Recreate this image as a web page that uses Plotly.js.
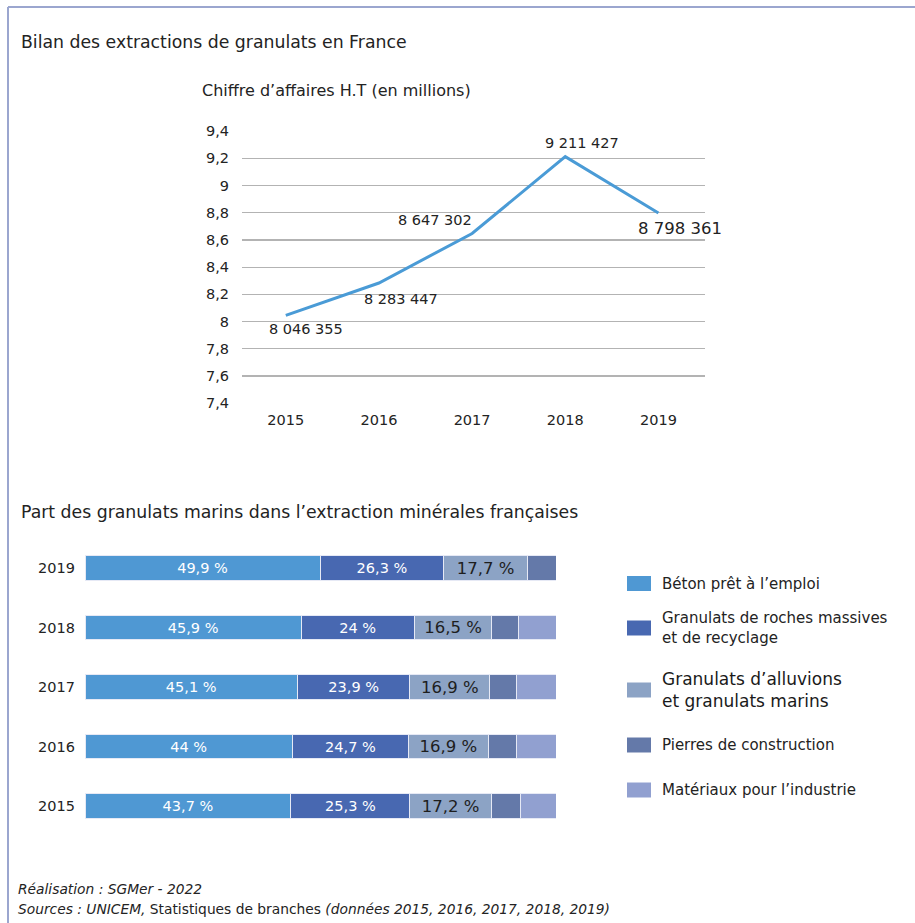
<!DOCTYPE html>
<html>
<head>
<meta charset="utf-8">
<script src="https://cdn.plot.ly/plotly-3.0.1.min.js"></script>
<style>
  html, body { margin: 0; padding: 0; background: #fff; }
  #chart { width: 915px; height: 923px; }
</style>
</head>
<body>
<div id="chart"></div>
<script>
// ---- Data ----
const years = ['2015', '2016', '2017', '2018', '2019'];
const chiffreAffaires = [8046355, 8283447, 8647302, 9211427, 8798361];

const barYears = ['2015', '2016', '2017', '2018', '2019'];
const seriesNames = [
  'Béton prêt à l\u2019emploi',
  'Granulats de roches massives<br>et de recyclage',
  'Granulats d\u2019alluvions<br>et granulats marins',
  'Pierres de construction',
  'Matériaux pour l\u2019industrie'
];
const beton     = [43.7, 44.0, 45.1, 45.9, 49.9];
const roches    = [25.3, 24.7, 23.9, 24.0, 26.3];
const alluvions = [17.2, 16.9, 16.9, 16.5, 17.7];
const pierres   = [6.3, 6.1, 5.8, 5.6, 6.1];
const materiaux = [7.5, 8.3, 8.3, 8.0, 0];

// ---- Styles ----
const FONT = '"DejaVu Sans", "Open Sans", sans-serif';
const TXT = '#232323';
const colors = ['#4f98d3', '#4868b1', '#8ca3c5', '#6479a9', '#91a0d0'];
const W = 915, H = 923;
const px = x => x / W;
const py = y => 1 - y / H;

function fmtThousands(v) {
  return String(v).replace(/\B(?=(\d{3})+(?!\d))/g, ' ');
}
function fmtPct(v) {
  return String(v).replace('.', ',') + ' %';
}

const yM = chiffreAffaires.map(v => v / 1e6);
const xIdx = years.map((_, i) => i);

const traces = [];
traces.push({
  type: 'scatter', mode: 'lines',
  x: xIdx, y: yM, xaxis: 'x', yaxis: 'y',
  line: { color: '#4a9bd6', width: 3 },
  hoverinfo: 'skip', showlegend: false
});

const barSeries = [beton, roches, alluvions, pierres, materiaux];
barSeries.forEach((vals, i) => {
  const showText = i < 3;
  traces.push({
    type: 'bar', orientation: 'h',
    x: vals, y: barYears, xaxis: 'x2', yaxis: 'y2',
    name: seriesNames[i],
    marker: { color: colors[i], line: { color: '#e6e9f5', width: 1 } },
    text: showText ? vals.map(fmtPct) : vals.map(() => ''),
    textposition: 'inside', insidetextanchor: 'middle',
    constraintext: 'none',
    textfont: i < 2 ? { family: FONT, size: 14.5, color: '#ffffff' }
                    : { family: FONT, size: 16.5, color: '#1e1e1e' },
    hoverinfo: 'skip', showlegend: false,
    width: 0.41
  });
});

// ---- Annotations ----
const ann = [];
function textAnn(x, y, text, size, opts) {
  ann.push(Object.assign({
    xref: 'paper', yref: 'paper', x: px(x), y: py(y), text: text,
    showarrow: false, xanchor: 'left', yanchor: 'middle',
    font: { family: FONT, size: size, color: TXT }
  }, opts || {}));
}
textAnn(19, 42, 'Bilan des extractions de granulats en France', 17.3);
textAnn(200, 91, 'Chiffre d\u2019affaires H.T (en millions)', 16);
textAnn(19, 512, 'Part des granulats marins dans l\u2019extraction minérales françaises', 17.3);
textAnn(16, 889, '<i>Réalisation : SGMer - 2022</i>', 13.8);
textAnn(16, 909, '<i>Sources : UNICEM,</i> Statistiques de branches <i>(données 2015, 2016, 2017, 2018, 2019)</i>', 13.8);

// Line data labels (offsets from the points)
const lblShift = [[20, -14], [22, -16], [-37, 13], [17, 14], [22, -16]];
chiffreAffaires.forEach((v, i) => {
  ann.push({
    xref: 'x', yref: 'y', x: xIdx[i], y: yM[i],
    text: fmtThousands(v), showarrow: false,
    xanchor: 'center', yanchor: 'middle',
    xshift: lblShift[i][0], yshift: lblShift[i][1],
    font: { family: FONT, size: i === 4 ? 16.5 : 14.5, color: TXT }
  });
});

// Custom legend
const legY = [583.5, 628, 690, 745, 790];
const shapes = [];
seriesNames.forEach((n, i) => {
  shapes.push({
    type: 'rect', xref: 'paper', yref: 'paper',
    x0: px(627), x1: px(651), y0: py(legY[i] - 7.5), y1: py(legY[i] + 7.5),
    fillcolor: colors[i], line: { width: 0 }
  });
  textAnn(660, legY[i], n, 15, {
    align: 'left',
    font: { family: FONT, size: i === 2 ? 17 : 15, color: i === 2 ? '#1a1a1a' : TXT }
  });
});

// Frame lines
shapes.push({ type: 'line', xref: 'paper', yref: 'paper', x0: px(8), x1: 1, y0: py(7), y1: py(7),
  line: { color: '#9ba6cf', width: 2 } });
shapes.push({ type: 'line', xref: 'paper', yref: 'paper', x0: px(8), x1: px(8), y0: py(7), y1: 0,
  line: { color: '#9ba6cf', width: 2 } });

const layout = {
  width: W, height: H,
  margin: { l: 0, r: 0, t: 0, b: 0 },
  paper_bgcolor: '#ffffff', plot_bgcolor: '#ffffff',
  separators: ', ',
  font: { family: FONT, color: TXT },
  showlegend: false,
  barmode: 'stack',
  xaxis: {
    domain: [px(242), px(705)],
    range: [-0.47, 4.5],
    tickvals: xIdx, ticktext: years,
    showgrid: false, zeroline: false, showline: false,
    ticks: '', ticklabelstandoff: 6,
    tickfont: { family: FONT, size: 14.5, color: TXT },
    fixedrange: true
  },
  yaxis: {
    domain: [py(403.3), py(131)],
    range: [7.4, 9.4],
    tick0: 7.4, dtick: 0.2,
    showgrid: true, gridcolor: '#b3b3b3', gridwidth: 1.2,
    zeroline: false, showline: false, ticks: '',
    ticklabelstandoff: 12,
    tickfont: { family: FONT, size: 14.5, color: TXT },
    fixedrange: true
  },
  xaxis2: {
    domain: [px(85), px(556)],
    range: [0, 100],
    showgrid: false, zeroline: false, showline: false,
    showticklabels: false, ticks: '',
    anchor: 'y2', fixedrange: true
  },
  yaxis2: {
    domain: [py(835.75), py(538.25)],
    type: 'category', range: [-0.5, 4.5],
    showgrid: false, zeroline: false, showline: false, ticks: '',
    ticklabelstandoff: 9,
    tickfont: { family: FONT, size: 14.5, color: TXT },
    anchor: 'x2', fixedrange: true
  },
  annotations: ann,
  shapes: shapes
};

Plotly.newPlot('chart', traces, layout, { staticPlot: true, displayModeBar: false });
</script>
</body>
</html>
